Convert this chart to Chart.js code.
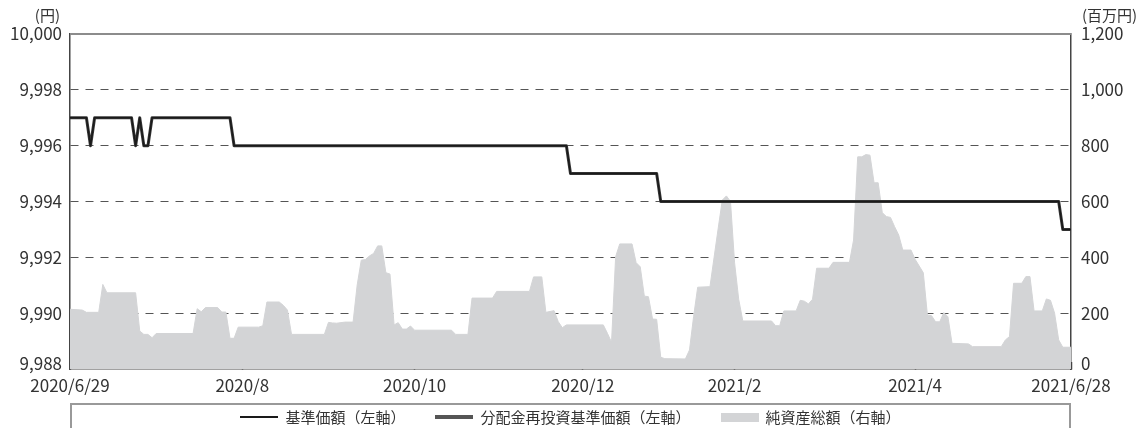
<!DOCTYPE html>
<html lang="ja">
<head>
<meta charset="utf-8">
<title>基準価額・純資産の推移</title>
<script src="https://cdn.jsdelivr.net/npm/chart.js@4.4.1/dist/chart.umd.min.js"></script>
<style>
  html, body { margin: 0; padding: 0; background: #fff; }
  #wrap { position: relative; width: 1145px; height: 428px; overflow: hidden; font-family: "Noto Sans CJK JP", sans-serif; }
  #legend {
    position: absolute; left: 70px; top: 403px; width: 1001px; height: 60px;
    box-sizing: border-box; border: 2px solid #999;
    display: flex; justify-content: center; align-items: flex-start;
    padding-top: 2px; color: #333; font-size: 15px; line-height: 20px;
  }
  .item { display: flex; align-items: center; margin: 0 15px; }
  .mark { display: inline-block; width: 38px; margin-right: 7px; }
</style>
</head>
<body>
<div id="wrap">
  <canvas id="navChart" width="1145" height="428"></canvas>
  <div id="legend"></div>
</div>
<script>
// x = business-day number counted from 2020/6/29 (day 0) to 2021/6/28 (day 244)
const lastDay = 244;
const tickDay = [0, 42, 84, 125, 162, 206, 244];
const tickLabels = ['2020/6/29', '2020/8', '2020/10', '2020/12', '2021/2', '2021/4', '2021/6/28'];

const leftUnit = '(円)';
const rightUnit = '(百万円)';

// 基準価額 (yen) — the reinvested price is identical (no distributions)
const navDay   = [0, 4, 5, 6, 15, 16, 17, 18, 19, 20, 39, 40, 121, 122, 143, 144, 241, 242, 244];
const navPrice = [9997, 9997, 9996, 9997, 9997, 9996, 9997, 9996, 9996, 9997, 9997, 9996, 9996, 9995, 9995, 9994, 9994, 9993, 9993];

// 純資産総額 (million yen)
const assetDay = [0, 3, 4, 7, 8, 9, 16, 17, 18, 19, 20, 21, 30, 31, 32, 33, 36, 37, 38, 39, 40, 41, 46, 47, 48, 51, 52, 53, 54,
  62, 63, 64, 65, 67, 69, 70, 71, 72, 73, 74, 75, 76, 77, 78, 79, 80, 81, 82, 83, 84, 93, 94, 97, 98, 103, 104, 112, 113, 115,
  116, 118, 119, 120, 121, 130, 131, 132, 133, 134, 137, 138, 139, 140, 141, 142, 143, 144, 145, 150, 151, 152, 153, 156, 157,
  158, 159, 160, 161, 162, 163, 164, 171, 172, 173, 174, 177, 178, 179, 180, 181, 182, 185, 186, 190, 191, 192, 193, 194, 195,
  196, 197, 198, 199, 200, 201, 202, 203, 205, 206, 208, 209, 210, 211, 212, 213, 214, 215, 219, 220, 227, 228, 229, 230, 232,
  233, 234, 235, 237, 238, 239, 240, 241, 242, 244];
const assetValue = [214, 211, 203, 203, 303, 273, 273, 136, 124, 124, 112, 127, 127, 216, 205, 220, 220, 204, 204, 110, 110, 150, 150, 155, 240, 240, 228, 211, 124,
  124, 167, 165, 164, 168, 168, 301, 390, 392, 405, 414, 441, 441, 345, 340, 158, 166, 143, 143, 154, 139, 139, 124, 124, 254, 254, 278, 278, 330, 330,
  203, 209, 170, 148, 158, 158, 128, 96, 402, 448, 448, 381, 366, 261, 259, 179, 178, 42, 37, 36, 68, 187, 293, 295, 400,
  504, 605, 620, 600, 380, 250, 172, 172, 155, 155, 208, 208, 246, 243, 233, 250, 361, 361, 382, 382, 462, 760, 760, 768, 766,
  667, 667, 560, 546, 543, 510, 480, 426, 426, 393, 345, 193, 191, 169, 169, 202, 187, 92, 90, 80, 80, 104, 116, 307, 307,
  331, 331, 208, 208, 251, 246, 200, 104, 78, 78];

const FONT = '"Noto Sans CJK JP", "Noto Sans", sans-serif';
const fmt = v => v.toLocaleString('en-US');

const navPoints = navDay.map((d, i) => ({ x: d, y: navPrice[i] }));
const assetPoints = assetDay.map((d, i) => ({ x: d, y: assetValue[i] }));

// legend (HTML, below the plot)
const legendItems = [
  { text: '基準価額（左軸）', color: '#1a1a1a', h: 2 },
  { text: '分配金再投資基準価額（左軸）', color: '#555', h: 4 },
  { text: '純資産総額（右軸）', color: '#d3d4d6', h: 9 }
];
document.getElementById('legend').innerHTML = legendItems.map(it =>
  `<span class="item"><span class="mark" style="height:${it.h}px;background:${it.color}"></span>${it.text}</span>`
).join('');

// top frame line + unit captions
const framePlugin = {
  id: 'frame',
  afterDraw(chart) {
    const { ctx, chartArea: a } = chart;
    ctx.save();
    ctx.strokeStyle = '#8c8c8c';
    ctx.lineWidth = 2;
    ctx.beginPath();
    ctx.moveTo(a.left, a.top);
    ctx.lineTo(a.right, a.top);
    ctx.stroke();
    ctx.fillStyle = '#333';
    ctx.font = '15px ' + FONT;
    ctx.textBaseline = 'middle';
    ctx.textAlign = 'right';
    ctx.fillText(leftUnit, a.left - 10, a.top - 19);
    ctx.textAlign = 'left';
    ctx.fillText(rightUnit, a.right + 11, a.top - 19);
    ctx.restore();
  }
};

const ctx = document.getElementById('navChart').getContext('2d');
const navChart = new Chart(ctx, {
  type: 'line',
  data: {
    datasets: [
      {
        label: '基準価額（左軸）',
        data: navPoints,
        yAxisID: 'y',
        borderColor: '#1a1a1a',
        borderWidth: 1.5,
        borderJoinStyle: 'round',
        order: 1
      },
      {
        label: '分配金再投資基準価額（左軸）',
        data: navPoints,
        yAxisID: 'y',
        borderColor: '#3a3a3a',
        borderWidth: 3,
        borderJoinStyle: 'round',
        order: 2
      },
      {
        label: '純資産総額（右軸）',
        data: assetPoints,
        yAxisID: 'y1',
        borderColor: '#d3d4d6',
        backgroundColor: '#d3d4d6',
        borderWidth: 1,
        fill: 'origin',
        order: 3
      }
    ]
  },
  options: {
    responsive: false,
    animation: false,
    layout: { padding: { top: 34, left: 0, right: 0, bottom: 0 } },
    elements: { point: { radius: 0, hoverRadius: 0 }, line: { tension: 0 } },
    plugins: {
      legend: { display: false },
      tooltip: { enabled: false }
    },
    scales: {
      x: {
        type: 'linear',
        min: 0,
        max: lastDay,
        afterBuildTicks: s => { s.ticks = tickDay.map(v => ({ value: v })); },
        afterFit: s => { s.height = 59; },
        grid: { drawOnChartArea: false, drawTicks: true, tickLength: -7, tickColor: '#444', tickWidth: 1.5 },
        border: { color: '#444', width: 1.5 },
        ticks: {
          autoSkip: false,
          maxRotation: 0,
          padding: 13,
          color: '#333',
          font: { family: FONT, size: 17 },
          callback: (v, i) => tickLabels[i]
        }
      },
      y: {
        position: 'left',
        min: 9988,
        max: 10000,
        afterFit: s => { s.width = 70; },
        grid: {
          drawTicks: false,
          lineWidth: 1,
          color: c => (c.tick && (c.tick.value === 10000 || c.tick.value === 9988)) ? 'rgba(0,0,0,0)' : '#555'
        },
        border: { color: '#444', width: 1.5, dash: [8, 7] },
        ticks: {
          stepSize: 2,
          padding: 8,
          color: '#333',
          font: { family: FONT, size: 17, lineHeight: 0.7 },
          callback: v => v === 9988 ? [fmt(v), ''] : fmt(v)
        }
      },
      y1: {
        position: 'right',
        min: 0,
        max: 1200,
        afterFit: s => { s.width = 74; },
        grid: { drawOnChartArea: false, drawTicks: false },
        border: { color: '#444', width: 1.5 },
        ticks: {
          stepSize: 200,
          padding: 10,
          color: '#333',
          font: { family: FONT, size: 17, lineHeight: 0.7 },
          callback: v => v === 0 ? [fmt(v), ''] : fmt(v)
        }
      }
    }
  },
  plugins: [framePlugin]
});
</script>
</body>
</html>
